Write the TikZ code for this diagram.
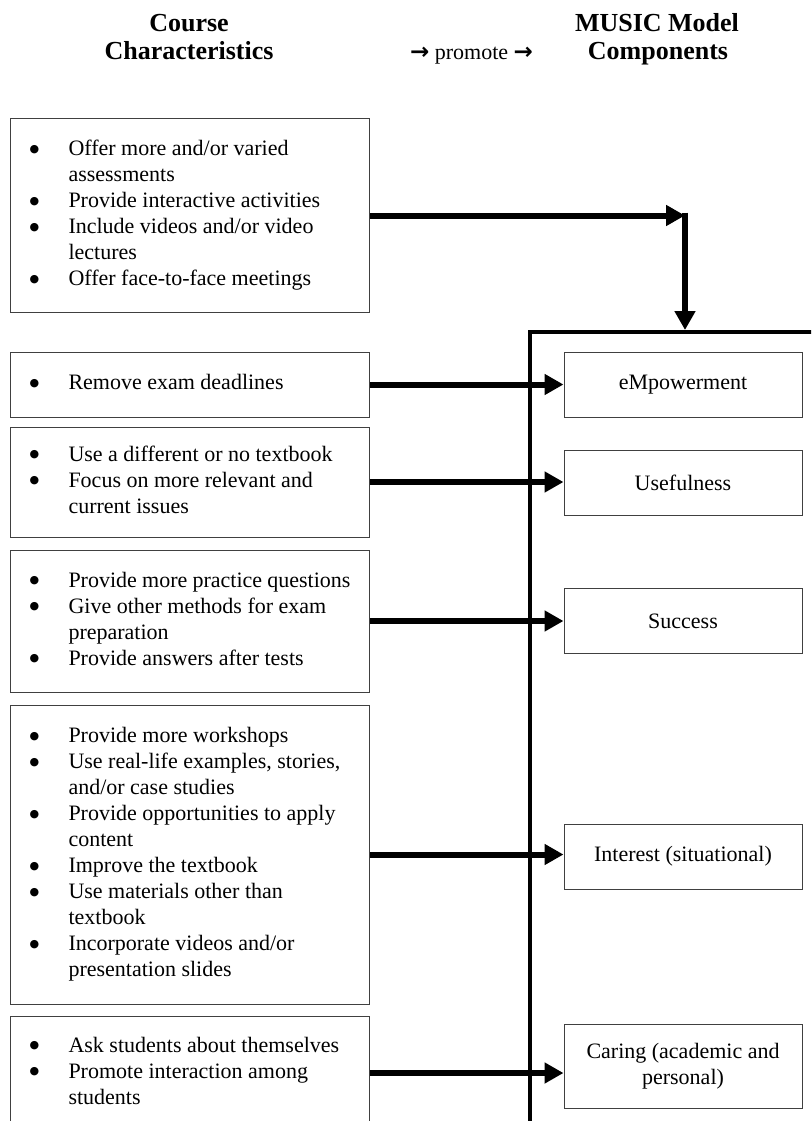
\documentclass[tikz,border=0pt]{standalone}
\usepackage{fontspec}
\setmainfont{Liberation Serif}
\newfontfamily\djv{DejaVu Sans}
\usepackage{array}
\usetikzlibrary{arrows.meta}
\newcommand\blist[1]{\begin{tabular}{@{}p{39pt}@{}p{282pt}@{}}#1\end{tabular}}
\newcommand\bul{\raisebox{3.4pt}{\djv\fontsize{11}{12}\selectfont ●}}
\newcommand\parr{{\djv\bfseries\fontsize{23}{22}\selectfont →}}
\tikzset{
  cbox/.style={draw=black!75, line width=1pt, rectangle, anchor=west, minimum width=359pt,
    inner xsep=0pt, inner ysep=0pt, font=\fontsize{22}{26}\selectfont},
  mbox/.style={draw=black!75, line width=1pt, rectangle, minimum width=238pt, minimum height=65pt,
    inner sep=0pt, align=center, font=\fontsize{22}{26}\selectfont},
  arr/.style={line width=6pt, -{Triangle[length=19pt,width=20pt]}},
  brk/.style={line width=4pt},
  hdr/.style={font=\bfseries\fontsize{26}{28}\selectfont, anchor=base, inner sep=0pt},
  prm/.style={font=\fontsize{22}{26}\selectfont, anchor=base, inner sep=0pt},
}
\begin{document}
\begin{tikzpicture}[x=1pt,y=-1pt]
\useasboundingbox (0,0) rectangle (811,1121);
\clip (0,0) rectangle (811,1121);
\fill[white] (0,0) rectangle (811,1121);
% headers
\node[hdr] (h1a) at (189,32) {Course};
\node[hdr] (h1b) at (189,60) {Characteristics};
\node[prm] (pr) at (471.5,60) {\parr{} promote \parr};
\node[hdr] (h2a) at (657,32) {MUSIC Model};
\node[hdr] (h2b) at (658,60) {Components};
% left boxes
\node[cbox, minimum height=193pt] (c1) at (10,215.5) {\blist{%
  \bul & Offer more and/or varied\\
  & assessments\\
  \bul & Provide interactive activities\\
  \bul & Include videos and/or video\\
  & lectures\\
  \bul & Offer face-to-face meetings}};
\node[cbox, minimum height=65pt] (c2) at (10,384.5) {\blist{%
  \bul & Remove exam deadlines}};
\node[cbox, minimum height=110pt] (c3) at (10,482) {\blist{%
  \bul & Use a different or no textbook\\
  \bul & Focus on more relevant and\\
  & current issues}};
\node[cbox, minimum height=142pt] (c4) at (10,621) {\blist{%
  \bul & Provide more practice questions\\
  \bul & Give other methods for exam\\
  & preparation\\
  \bul & Provide answers after tests}};
\node[cbox, minimum height=299pt] (c5) at (10,854.5) {\blist{%
  \bul & Provide more workshops\\
  \bul & Use real-life examples, stories,\\
  & and/or case studies\\
  \bul & Provide opportunities to apply\\
  & content\\
  \bul & Improve the textbook\\
  \bul & Use materials other than\\
  & textbook\\
  \bul & Incorporate videos and/or\\
  & presentation slides}};
\node[cbox, minimum height=114pt] (c6) at (10,1073) {\blist{%
  \bul & Ask students about themselves\\
  \bul & Promote interaction among\\
  & students}};
% right boxes
\node[mbox] (m1) at (683,384.5) {eMpowerment};
\node[mbox] (m2) at (683,483) {Usefulness};
\node[mbox] (m3) at (683,621) {Success};
\node[mbox] (m4) at (683,856.5) {Interest (situational)};
\node[mbox, minimum height=84pt] (m5) at (683,1066) {Caring (academic and\\personal)};
% bracket
\coordinate (btop) at (530,332);
\coordinate (bright) at (840,332);
\coordinate (bbot) at (530,1150);
\draw[brk] (bright) -- (btop) -- (bbot);
% top connector
\coordinate (corner) at (685,215.5);
\coordinate (cstart) at (685,212.5);
\coordinate (vtip) at (685,330);
\draw[arr] (c1.east) -- (corner);
\draw[arr] (cstart) -- (vtip);
% arrows
\draw[arr] (c2.east) -- (c2.east -| m1.west);
\draw[arr] (c3.east) -- (c3.east -| m2.west);
\draw[arr] (c4.east) -- (c4.east -| m3.west);
\draw[arr] (c5.east) -- (c5.east -| m4.west);
\draw[arr] (c6.east) -- (c6.east -| m5.west);
\end{tikzpicture}
\end{document}
